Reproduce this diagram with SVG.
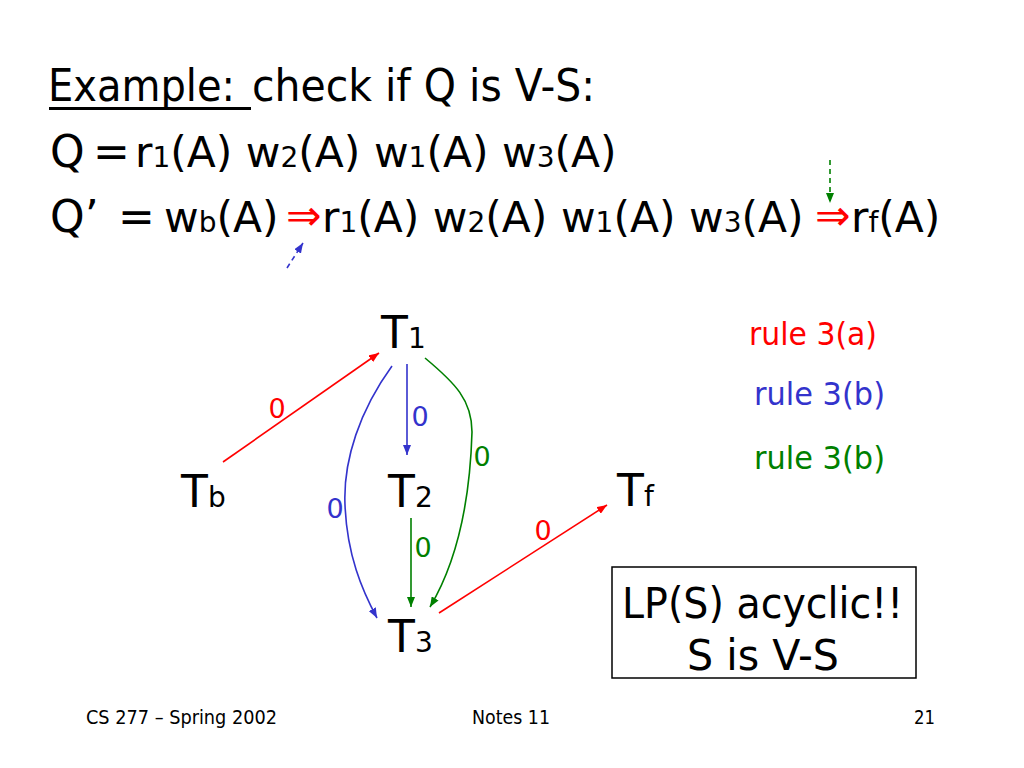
<svg xmlns="http://www.w3.org/2000/svg" width="1024" height="768" viewBox="0 0 1024 768">
<defs>
<style>
text{font-family:"DejaVu Sans","Liberation Sans",sans-serif;fill:#000}
.big{font-size:44px}
.seq{font-size:42.4px}
.sub{font-size:28px}
.node{font-size:44px}
.lbl{font-size:27px}
.rule{font-size:32px}
.foot{font-size:20px}
.red{fill:#ff0000}
.blue{fill:#3333cc}
.green{fill:#008000}
.e{fill:none;stroke-width:1.6}
.er{stroke:#ff0000}
.eb{stroke:#3333cc}
.eg{stroke:#008000}
</style>
<marker id="ar" markerUnits="userSpaceOnUse" markerWidth="10" markerHeight="8" refX="10" refY="4" orient="auto"><path d="M0,0 L10,4 L0,8 z" fill="#ff0000"/></marker>
<marker id="ab" markerUnits="userSpaceOnUse" markerWidth="10" markerHeight="8" refX="10" refY="4" orient="auto"><path d="M0,0 L10,4 L0,8 z" fill="#3333cc"/></marker>
<marker id="ag" markerUnits="userSpaceOnUse" markerWidth="10" markerHeight="8" refX="10" refY="4" orient="auto"><path d="M0,0 L10,4 L0,8 z" fill="#008000"/></marker>
</defs>
<rect width="1024" height="768" fill="#fff"/>

<g id="title">
<text class="big" x="48" y="101" textLength="187" lengthAdjust="spacingAndGlyphs">Example:</text>
<rect x="49" y="107" width="202" height="3" fill="#000"/>
<text class="big" x="252" y="101" textLength="343" lengthAdjust="spacingAndGlyphs">check if Q is V-S:</text>
</g>

<g id="line-q">
<text class="big" x="50" y="167">Q</text>
<text class="big" x="93" y="167">=</text>
<text class="seq" x="135" y="167">r<tspan class="sub">1</tspan>(A) w<tspan class="sub">2</tspan>(A) w<tspan class="sub">1</tspan>(A) w<tspan class="sub">3</tspan>(A)</text>
</g>

<g id="line-qprime">
<text class="big" x="50" y="232">Q’</text>
<text class="big" x="118" y="232">=</text>
<text class="seq" x="164" y="232">w<tspan class="sub">b</tspan>(A)</text>
<text class="seq red" x="286" y="230">⇒</text>
<text class="seq" x="322" y="232">r<tspan class="sub">1</tspan>(A) w<tspan class="sub">2</tspan>(A) w<tspan class="sub">1</tspan>(A) w<tspan class="sub">3</tspan>(A)</text>
<text class="seq red" x="815" y="230">⇒</text>
<text class="seq" x="851" y="232">r<tspan class="sub">f</tspan>(A)</text>
</g>

<g id="pointers">
<line x1="287" y1="268" x2="303" y2="243" class="e eb" stroke-dasharray="5,4" marker-end="url(#ab)"/>
<line x1="830" y1="160" x2="830" y2="203" class="e eg" stroke-dasharray="5,4" marker-end="url(#ag)"/>
</g>

<g id="connectors">
<line x1="223" y1="462" x2="379" y2="353" class="e er" marker-end="url(#ar)"/>
<line x1="407" y1="364" x2="407" y2="455" class="e eb" marker-end="url(#ab)"/>
<path d="M392,366 C360,410 343,460 345,505 C347,555 362,590 377,618" class="e eb" marker-end="url(#ab)"/>
<path d="M425,358 C455,383 472,400 472,432 C470,500 458,560 430,607" class="e eg" marker-end="url(#ag)"/>
<line x1="411" y1="518" x2="411" y2="607" class="e eg" marker-end="url(#ag)"/>
<line x1="439" y1="613" x2="607" y2="505" class="e er" marker-end="url(#ar)"/>
<text class="lbl red" x="277" y="418" text-anchor="middle">0</text>
<text class="lbl blue" x="420" y="426" text-anchor="middle">0</text>
<text class="lbl blue" x="335" y="518" text-anchor="middle">0</text>
<text class="lbl green" x="482" y="466" text-anchor="middle">0</text>
<text class="lbl green" x="423" y="557" text-anchor="middle">0</text>
<text class="lbl red" x="543" y="540" text-anchor="middle">0</text>
</g>

<g id="node-T1"><text class="node" x="381" y="348">T<tspan class="sub">1</tspan></text></g>
<g id="node-Tb"><text class="node" x="181" y="507">T<tspan class="sub">b</tspan></text></g>
<g id="node-T2"><text class="node" x="388" y="507">T<tspan class="sub">2</tspan></text></g>
<g id="node-T3"><text class="node" x="388" y="652">T<tspan class="sub">3</tspan></text></g>
<g id="node-Tf"><text class="node" x="617" y="506">T<tspan class="sub">f</tspan></text></g>

<g id="legend">
<text class="rule red" x="749" y="345" textLength="128" lengthAdjust="spacingAndGlyphs">rule 3(a)</text>
<text class="rule blue" x="754" y="405" textLength="131" lengthAdjust="spacingAndGlyphs">rule 3(b)</text>
<text class="rule green" x="754" y="469" textLength="131" lengthAdjust="spacingAndGlyphs">rule 3(b)</text>
</g>

<g id="result-box">
<rect x="612" y="567" width="304" height="111" fill="none" stroke="#000" stroke-width="1.5"/>
<text class="big" x="622" y="618" textLength="281" lengthAdjust="spacingAndGlyphs" style="font-size:42px">LP(S) acyclic!!</text>
<text class="big" x="687" y="670" textLength="152" lengthAdjust="spacingAndGlyphs" style="font-size:42px">S is V-S</text>
</g>

<g id="footer">
<text class="foot" x="86" y="724" textLength="191" lengthAdjust="spacingAndGlyphs">CS 277 – Spring 2002</text>
<text class="foot" x="472" y="724" textLength="78" lengthAdjust="spacingAndGlyphs">Notes 11</text>
<text class="foot" x="914" y="724" textLength="21" lengthAdjust="spacingAndGlyphs">21</text>
</g>
</svg>
